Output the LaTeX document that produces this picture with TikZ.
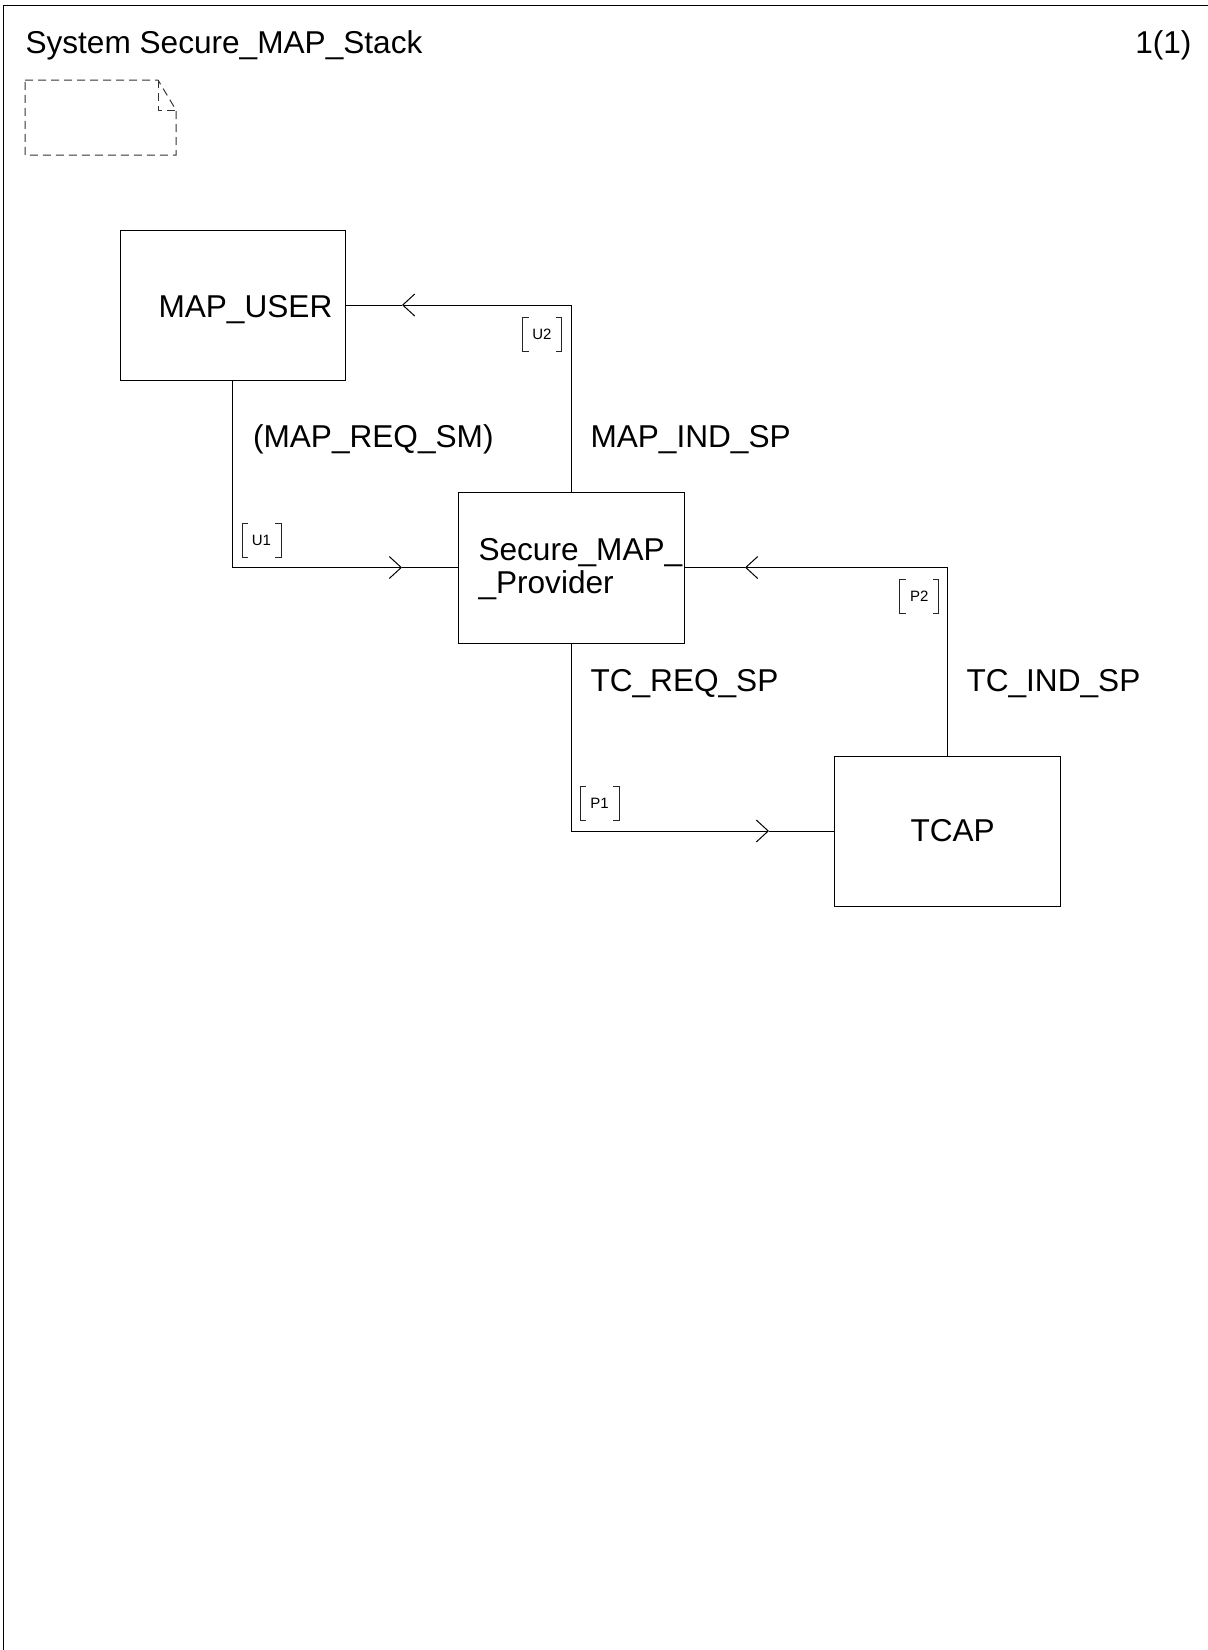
\documentclass[tikz,border=0pt]{standalone}
\usepackage{fontspec}
\setmainfont{Liberation Sans}
\usetikzlibrary{arrows.meta}
\newcommand\sdlbrk[1]{%
  \draw[brk] ([xshift=6pt]#1.north west) -- (#1.north west) -- (#1.south west) -- ([xshift=6pt]#1.south west);
  \draw[brk] ([xshift=-6pt]#1.north east) -- (#1.north east) -- (#1.south east) -- ([xshift=-6pt]#1.south east);}
\begin{document}
\begin{tikzpicture}[x=1pt,y=-1pt, line width=1pt,
  box/.style={draw, rectangle, inner sep=0pt, minimum width=225pt, minimum height=150pt},
  lbl/.style={inner sep=0pt, anchor=base west, font=\fontsize{31.6}{35}\selectfont},
  sig/.style={inner sep=0pt, minimum width=38pt, minimum height=33pt, font=\fontsize{15}{17}\selectfont},
  chev/.style={-{Straight Barb[length=12pt,width=22pt,line width=1pt]}},
  brk/.style={line width=0.9pt, black!85},
  notebox/.style={line width=1pt, black!80, dash pattern=on 8pt off 5pt}]
\useasboundingbox (0,0) rectangle (1208,1650);
% frame
\draw (3,1650) -- (3,5) -- (1208,5);
\node[lbl] (title) at (25,53) {System Secure\_MAP\_Stack};
\node[lbl, anchor=base east] (page) at (1192,53) {1(1)};
% note symbol
\draw[notebox] (25,80) -- (158,80) -- (176,110) -- (176,155) -- (25,155) -- cycle;
\draw[notebox] (158,80) -- (158,110) -- (176,110);
% blocks
\node[box] (user) at (232.5,305) {};
\node[box, minimum width=226pt, minimum height=151pt] (prov) at (571,567.5) {};
\node[box, minimum width=226pt] (tcap) at (947,831) {};
\node[lbl] (userlbl) at (158,317) {MAP\_USER};
\node[lbl] (provlbl1) at (478,560) {Secure\_MAP\_};
\node[lbl] (provlbl2) at (478,593) {\_Provider};
\node[lbl] (tcaplbl) at (910,841) {TCAP};
% signal lists
\node[lbl] (req) at (252.5,447) {(MAP\_REQ\_SM)};
\node[lbl] (ind) at (590,447) {MAP\_IND\_SP};
\node[lbl] (treq) at (590,691) {TC\_REQ\_SP};
\node[lbl] (tind) at (966,691) {TC\_IND\_SP};
% channels
\coordinate (a2) at (402,305);
\draw[chev] (prov.north) |- (a2);
\draw (a2) -- (user.east);
\coordinate (a1) at (402,567.5);
\draw[chev] (user.south) |- (a1);
\draw (a1) -- (prov.west);
\coordinate (a3) at (745,567.5);
\draw[chev] (tcap.north) |- (a3);
\draw (a3) -- (prov.east);
\coordinate (a4) at (769,831);
\draw[chev] (prov.south) |- (a4);
\draw (a4) -- (tcap.west);
% channel names
\node[sig] (u2) at (542,334) {U2};
\node[sig] (u1) at (261.5,540) {U1};
\node[sig] (p2) at (919.3,596) {P2};
\node[sig] (p1) at (599.5,803) {P1};
\sdlbrk{u2}\sdlbrk{u1}\sdlbrk{p2}\sdlbrk{p1}
\end{tikzpicture}
\end{document}
